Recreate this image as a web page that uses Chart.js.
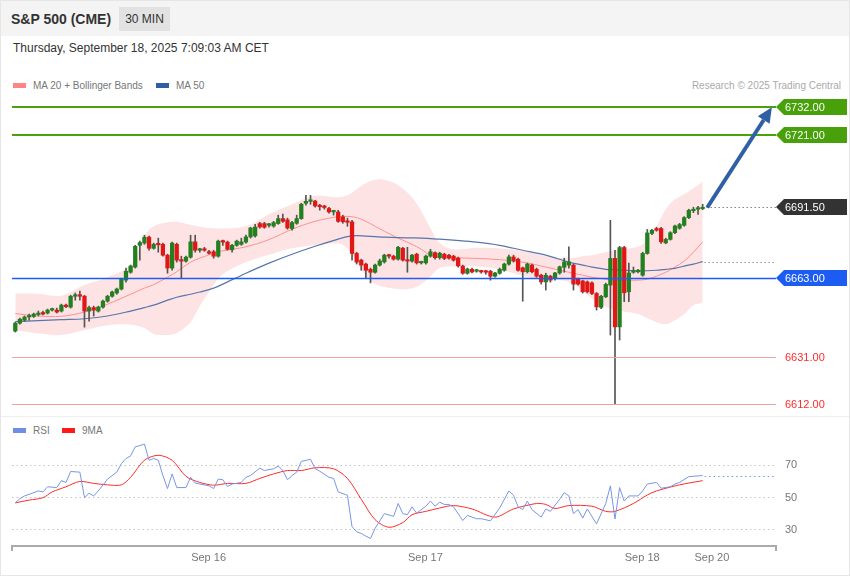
<!DOCTYPE html>
<html>
<head>
<meta charset="utf-8">
<script src="https://cdn.jsdelivr.net/npm/chart.js@4.4.1/dist/chart.umd.min.js"></script>
<style>
  body { margin: 0; background: #fff; font-family: "Liberation Sans", Arial, sans-serif; }
  #page { position: relative; width: 848px; height: 574px; border: 1px solid #e6e6e6; overflow: hidden; }
  #head { position: absolute; left: 0; top: 0; width: 848px; height: 35px; background: #f4f4f4; }
  #title { position: absolute; left: 10px; top: 10px; font-size: 14px; font-weight: bold; color: #333; line-height: 16px; }
  #badge { position: absolute; left: 118px; top: 6px; width: 51px; height: 24px; background: #e2e2e2; color: #333; font-size: 12px; line-height: 24px; text-align: center; }
  #stamp { position: absolute; left: 12px; top: 40px; font-size: 12px; color: #333; line-height: 14px; }
  .legend { position: absolute; font-size: 10px; color: #777; line-height: 12px; white-space: nowrap; }
  .legend i { display: inline-block; width: 13px; height: 5px; margin-right: 7px; vertical-align: 1px; }
  #credit { position: absolute; right: 8px; top: 79px; font-size: 10px; color: #aaa; line-height: 12px; }
  #sep { position: absolute; left: 0; top: 415px; width: 848px; height: 1px; background: #eee; }
  canvas { position: absolute; left: -1px; }
</style>
</head>
<body>
<div id="page">
  <div id="head"></div>
  <div id="title">S&amp;P 500 (CME)</div>
  <div id="badge">30 MIN</div>
  <div id="stamp">Thursday, September 18, 2025 7:09:03 AM CET</div>
  <div class="legend" style="left:12px;top:79px"><i style="background:#ff8585"></i>MA 20 + Bollinger Bands</div>
  <div class="legend" style="left:155px;top:79px"><i style="background:#2e5ea6"></i>MA 50</div>
  <div id="credit">Research © 2025 Trading Central</div>
  <div id="sep"></div>
  <div class="legend" style="left:12px;top:424px"><i style="background:#6f8fe6"></i>RSI</div>
  <div class="legend" style="left:61px;top:424px"><i style="background:#ff1a1a"></i>9MA</div>
  <canvas id="price" width="850" height="320" style="top:95px"></canvas>
  <canvas id="rsi" width="850" height="152" style="top:424px"></canvas>
</div>
<script>
// 30 min bars, index 0..149
const opens = [6641.5,6644.7,6645.9,6647.2,6647.4,6648.2,6649.0,6648.8,6650.0,6650.0,
  6649.6,6652.0,6651.2,6655.6,6655.8,6655.6,6649.6,6651.0,6649.6,6651.2,
  6653.6,6655.6,6656.9,6658.5,6662.1,6665.3,6667.4,6676.2,6677.1,6679.5,
  6675.0,6676.6,6676.6,6672.2,6667.0,6676.6,6670.2,6669.8,6671.4,6677.6,
  6674.2,6674.4,6673.6,6673.6,6671.8,6677.9,6677.5,6674.4,6676.2,6676.6,
  6677.5,6679.6,6680.0,6685.0,6685.0,6684.3,6684.0,6685.0,6687.0,6686.5,
  6683.0,6685.1,6687.0,6693.2,6694.0,6694.1,6692.0,6691.8,6691.1,6689.7,
  6689.7,6687.7,6685.7,6685.7,6672.9,6670.2,6668.6,6666.5,6665.3,6668.2,
  6669.5,6672.0,6671.8,6670.6,6675.0,6670.2,6669.8,6672.6,6669.1,6669.1,
  6671.8,6673.2,6671.2,6672.6,6672.2,6671.8,6671.0,6667.8,6664.9,6666.5,
  6665.7,6665.6,6665.5,6665.7,6663.7,6664.9,6666.1,6668.6,6671.5,6670.6,
  6667.1,6665.5,6668.2,6666.5,6664.1,6661.4,6663.7,6662.8,6665.0,6667.3,
  6668.2,6668.2,6662.5,6661.8,6661.4,6661.0,6656.7,6651.1,6655.4,6660.1,
  6670.9,6643.2,6675.3,6657.4,6665.3,6665.5,6664.1,6672.9,6681.0,6683.0,
  6683.0,6677.2,6678.6,6681.3,6683.1,6684.3,6687.4,6690.2,6690.8,6691.0];
const highs = [6645.1,6646.8,6647.6,6648.4,6648.8,6649.6,6649.6,6650.4,6650.8,6650.8,
  6652.4,6652.4,6656.0,6656.9,6657.7,6656.0,6651.6,6651.6,6651.6,6654.0,
  6656.0,6657.7,6658.9,6662.9,6667.0,6668.2,6676.2,6677.9,6680.3,6679.9,
  6677.1,6679.1,6677.1,6672.6,6677.5,6677.1,6671.8,6671.8,6680.3,6680.3,
  6675.0,6675.4,6674.2,6674.2,6678.3,6678.3,6677.9,6676.6,6678.3,6679.1,
  6680.3,6683.5,6684.7,6685.5,6685.5,6685.1,6685.9,6688.4,6688.8,6687.2,
  6685.9,6688.4,6693.2,6696.4,6696.4,6694.4,6692.8,6692.4,6691.6,6690.4,
  6690.4,6688.4,6687.2,6686.3,6673.4,6670.6,6669.0,6667.0,6668.6,6670.6,
  6672.6,6672.6,6672.2,6675.8,6675.4,6675.4,6672.6,6673.0,6669.8,6672.2,
  6674.6,6673.6,6673.4,6673.0,6672.6,6672.2,6671.4,6668.2,6667.0,6667.0,
  6666.5,6666.1,6666.1,6666.1,6665.3,6667.0,6669.0,6672.2,6672.2,6671.0,
  6667.4,6669.0,6668.6,6667.0,6664.5,6664.9,6664.1,6665.3,6667.8,6671.0,
  6675.6,6668.6,6662.9,6662.1,6661.8,6661.4,6657.1,6656.0,6660.9,6686.3,
  6674.2,6675.8,6675.8,6669.0,6667.4,6666.5,6673.4,6682.6,6682.7,6683.5,
  6683.5,6679.1,6681.7,6684.4,6685.1,6687.8,6690.8,6691.6,6692.0,6692.8];
const lows = [6641.1,6644.3,6645.5,6645.9,6647.0,6647.6,6648.0,6648.4,6649.6,6648.8,
  6649.2,6651.0,6650.8,6654.0,6654.0,6643.1,6645.5,6647.6,6649.2,6650.8,
  6653.2,6655.2,6656.4,6658.1,6661.3,6664.9,6667.0,6670.2,6676.6,6674.2,
  6674.6,6673.4,6671.8,6664.9,6666.1,6669.4,6662.9,6669.4,6671.0,6673.4,
  6673.4,6673.8,6672.6,6671.0,6671.4,6676.2,6674.2,6673.4,6675.8,6676.2,
  6677.1,6679.1,6679.5,6683.1,6683.1,6683.5,6683.5,6684.7,6685.5,6682.7,
  6682.3,6684.7,6686.7,6692.4,6692.8,6691.6,6690.4,6690.8,6689.2,6688.4,
  6685.5,6685.1,6683.9,6670.2,6668.6,6666.1,6662.9,6661.0,6664.9,6667.8,
  6669.0,6671.0,6670.2,6670.2,6669.8,6665.3,6669.4,6668.6,6668.6,6668.6,
  6671.4,6670.6,6670.6,6670.4,6670.6,6669.8,6667.4,6664.5,6664.5,6665.0,
  6665.3,6664.9,6664.5,6662.1,6663.3,6664.5,6665.7,6668.2,6669.4,6665.7,
  6653.6,6665.0,6665.0,6663.3,6660.5,6658.1,6661.3,6662.1,6664.5,6665.3,
  6667.0,6658.1,6660.1,6656.9,6656.9,6656.2,6650.0,6650.6,6655.0,6639.9,
  6612.0,6637.9,6653.4,6653.4,6664.9,6665.0,6663.7,6672.6,6680.5,6681.9,
  6677.0,6676.8,6678.3,6680.9,6682.7,6683.9,6687.0,6689.4,6688.7,6690.6];
const closes = [6644.7,6646.3,6647.2,6647.6,6648.4,6648.8,6648.4,6650.0,6650.2,6649.2,
  6652.0,6651.4,6655.6,6655.8,6655.6,6649.6,6651.0,6650.0,6651.2,6653.6,
  6655.6,6657.3,6658.5,6662.5,6665.7,6667.8,6675.8,6677.3,6679.5,6675.0,
  6676.6,6676.4,6672.2,6667.0,6677.1,6670.2,6669.8,6671.4,6677.6,6674.2,
  6674.4,6674.2,6673.0,6671.8,6677.9,6677.5,6674.6,6676.2,6677.9,6677.6,
  6679.6,6683.2,6683.6,6683.6,6683.5,6684.5,6685.4,6687.0,6685.9,6683.2,
  6685.4,6687.0,6692.8,6694.0,6694.2,6692.1,6691.8,6691.5,6689.7,6689.9,
  6685.9,6685.7,6685.5,6672.9,6669.4,6668.2,6666.1,6665.3,6668.2,6669.9,
  6672.2,6671.8,6670.6,6675.4,6670.2,6669.8,6672.2,6669.1,6669.3,6671.8,
  6673.6,6671.2,6673.0,6670.9,6671.0,6670.2,6667.9,6664.9,6666.6,6665.4,
  6665.9,6665.4,6665.3,6663.7,6665.0,6666.5,6668.6,6671.5,6669.9,6666.1,
  6665.5,6668.6,6665.5,6663.7,6661.4,6664.1,6662.1,6665.0,6667.5,6669.5,
  6669.5,6660.5,6660.5,6657.4,6657.4,6656.7,6651.3,6655.6,6660.4,6670.9,
  6643.2,6675.3,6657.0,6665.0,6665.7,6665.9,6672.9,6681.2,6682.3,6682.3,
  6677.6,6678.6,6681.3,6684.0,6684.6,6687.4,6690.4,6690.8,6691.0,6691.5];

// moving averages and bands, read at these bar indices
const bandIdx = [0,5,10,15,20,25,28,30,33,35,38,40,43,45,50,55,60,65,70,72,74,76,78,80,83,86,88,90,92,95,100,105,110,115,120,123,125,128,130,135,137,139,141,143,145,147,149];
const bbUpper = [6656.7,6656.6,6655.8,6660.1,6663.3,6668.2,6679.9,6683.9,6685.5,6685.7,6684.5,6683.7,6683.1,6683.0,6683.9,6688.8,6692.8,6696.2,6695.6,6696.4,6698.9,6701.3,6702.7,6702.7,6700.5,6695.6,6690.0,6683.1,6677.1,6674.6,6675.2,6675.0,6674.0,6671.8,6670.9,6671.8,6672.2,6673.4,6674.2,6675.6,6678.3,6683.9,6690.8,6694.8,6696.9,6699.3,6701.9];
const bbLower = [6641.9,6640.5,6639.9,6641.9,6643.9,6644.1,6642.7,6640.3,6639.9,6640.7,6645.1,6651.6,6660.1,6664.5,6669.4,6672.4,6675.0,6676.2,6676.9,6675.0,6669.4,6663.7,6660.5,6659.3,6658.5,6658.7,6660.5,6663.7,6667.0,6667.6,6667.6,6666.5,6663.9,6662.3,6661.5,6657.7,6654.8,6651.4,6650.0,6648.4,6646.7,6645.1,6644.3,6645.9,6648.4,6652.0,6653.0];
const ma20 = [6648.6,6647.6,6647.5,6649.2,6652.4,6656.4,6658.9,6660.3,6663.3,6665.5,6669.4,6671.0,6673.0,6674.0,6675.6,6678.5,6682.7,6685.9,6687.8,6687.9,6687.4,6685.9,6683.9,6681.9,6679.1,6676.6,6674.6,6672.2,6671.6,6671.2,6670.9,6670.4,6669.4,6667.4,6665.3,6664.1,6663.3,6662.5,6662.1,6662.1,6662.5,6663.7,6665.3,6667.4,6669.8,6673.4,6677.6];
const ma50 = [6645.3,6645.7,6646.1,6646.5,6647.6,6649.6,6651.0,6652.0,6654.0,6655.2,6656.4,6657.3,6658.9,6660.5,6664.9,6669.0,6672.6,6675.8,6678.7,6679.7,6680.1,6679.9,6679.7,6679.5,6679.3,6679.2,6679.1,6678.9,6678.7,6678.3,6677.5,6676.2,6674.2,6672.2,6669.4,6668.2,6667.4,6666.5,6666.3,6665.9,6665.9,6666.1,6666.5,6666.9,6667.8,6668.6,6669.6];

// RSI and its 9 period average
const rsiIdx = [0,1,2,3,5,6,7,9,10,11,12,14,15,16,17,18,20,22,23,24,25,26,27,28,29,30,31,32,33,34,35,37,38,39,40,42,43,44,45,46,47,49,50,51,53,54,56,57,58,59,60,61,62,64,65,66,68,69,70,72,73,74,75,76,77,78,80,82,83,84,85,86,87,89,90,91,92,93,94,95,97,98,100,101,103,105,107,108,109,110,111,112,114,115,116,118,119,120,121,122,123,124,126,128,129,130,131,132,133,135,136,137,139,140,142,143,144,146,149];
const rsiVal = [46.7,49.3,51,52,54.1,53.5,56.7,56.2,60.5,59.4,66.2,65.8,49.9,52.7,51,54.1,61.5,65.8,71.1,74.3,75.9,81.6,82.3,83.3,73.2,74.3,73.2,63.7,55.6,64.7,56.2,56.2,62.6,59,58.4,57.3,55.6,61.5,61.1,56.9,58.4,59.4,62.6,63.7,68.3,66.8,67.9,69.6,66.8,61.1,63.7,65.8,72.5,73.8,67.9,66.4,62.6,61.9,53.5,51.4,31.9,28.7,27.6,26,24.5,30.8,40,38.3,46.3,40,39.3,44.2,40.3,44.6,47.8,44.6,47.1,45.7,45.7,44.2,35.7,38.9,36.8,36.8,35.5,43.5,54.1,51.4,44.2,42.5,47.8,42.5,37.8,42.9,41.4,48.9,53,51,40,42.5,37.2,42.9,33.6,46.3,57.3,36.6,56.2,47.8,51,51,54.1,58.4,59.4,55.8,56.7,58.4,59.4,63,63.7];
const rsiMaIdx = [0,3,6,8,11,14,17,20,23,25,28,31,34,37,40,43,46,50,53,56,59,62,65,69,72,75,78,81,84,86,89,92,95,99,104,108,113,115,117,120,125,128,130,134,137,139,144,149];
const rsiMaVal = [46.7,48.4,49.9,53.5,56.7,60,58.8,57.9,57.9,62.6,73.2,76.3,73.2,63.2,59.4,57.7,58.8,58.8,61.9,64.7,66.8,66.8,68.5,67.9,61.9,48.9,36.2,31.5,34.4,39.3,41.4,43.5,45,42.9,37.8,42.9,46.3,45.7,43.2,45,44.6,41.4,41.4,46.3,51.6,54.1,57.9,60.5];
const rsiLevels = [30, 50, 70];

// levels and annotations
const targets = [6732, 6721];
const pivot = 6663;
const supports = [6631, 6612];
const lastPrice = 6691.5;
const arrowFrom = [150, 6691.5];
const arrowTo = [164, 6732];

// time axis
const dayTicks = [41.9, 88.9, 135.9, 151.0];
const dayLabels = ['Sep 16', 'Sep 17', 'Sep 18', 'Sep 20'];

const FONT = '"Liberation Sans", Arial, sans-serif';
const X_MIN = -0.71, X_MAX = 164.9;
Chart.defaults.font.family = FONT;

const pts = (xs, ys) => xs.map((x, k) => ({x: x, y: ys[k]}));
const bars = closes.map((c, i) => i);

function tag(ctx, left, py, text, bg) {
  ctx.fillStyle = bg;
  ctx.beginPath();
  ctx.moveTo(left, py);
  ctx.lineTo(left + 8, py - 8);
  ctx.lineTo(left + 71, py - 8);
  ctx.lineTo(left + 71, py + 8);
  ctx.lineTo(left + 8, py + 8);
  ctx.closePath();
  ctx.fill();
  ctx.fillStyle = '#fff';
  ctx.font = '11px ' + FONT;
  ctx.textBaseline = 'middle';
  ctx.fillText(text, left + 9, py + 0.5);
}

const priceMarks = {
  id: 'priceMarks',
  afterDatasetsDraw(chart) {
    const {ctx, chartArea: a, scales: {x, y}} = chart;
    const hline = (v, color, w) => {
      const py = Math.round(y.getPixelForValue(v)) + (w % 2 ? 0.5 : 0);
      ctx.strokeStyle = color;
      ctx.lineWidth = w;
      ctx.beginPath();
      ctx.moveTo(a.left, py);
      ctx.lineTo(a.right, py);
      ctx.stroke();
    };
    const dotted = (v, from, color) => {
      const py = Math.round(y.getPixelForValue(v)) + 0.5;
      ctx.strokeStyle = color;
      ctx.lineWidth = 1;
      ctx.beginPath();
      ctx.moveTo(from, py);
      ctx.lineTo(a.right, py);
      ctx.stroke();
    };
    ctx.save();
    targets.forEach(v => hline(v, '#4aa00e', 2));
    hline(pivot, '#1d5cf2', 1.4);
    supports.forEach(v => hline(v, '#f0a2a2', 1));
    ctx.setLineDash([1, 3]);
    dotted(lastPrice, x.getPixelForValue(closes.length - 1) + 4, '#444');
    dotted(ma50[ma50.length - 1], x.getPixelForValue(bandIdx[bandIdx.length - 1]) + 2, '#666');
    ctx.restore();
  },
  afterDraw(chart) {
    const {ctx, chartArea: a, scales: {x, y}} = chart;
    ctx.save();
    // arrow
    const x0 = x.getPixelForValue(arrowFrom[0]), y0 = y.getPixelForValue(arrowFrom[1]);
    const x1 = x.getPixelForValue(arrowTo[0]), y1 = y.getPixelForValue(arrowTo[1]);
    const ang = Math.atan2(y1 - y0, x1 - x0);
    const head = 15, half = 7;
    const bx = x1 - head * Math.cos(ang), by = y1 - head * Math.sin(ang);
    ctx.strokeStyle = '#2f5fa4';
    ctx.fillStyle = '#2f5fa4';
    ctx.lineWidth = 4;
    ctx.beginPath();
    ctx.moveTo(x0, y0);
    ctx.lineTo(bx, by);
    ctx.stroke();
    ctx.beginPath();
    ctx.moveTo(x1, y1);
    ctx.lineTo(bx + half * Math.sin(ang), by - half * Math.cos(ang));
    ctx.lineTo(bx - half * Math.sin(ang), by + half * Math.cos(ang));
    ctx.closePath();
    ctx.fill();
    // price tags
    targets.forEach(v => tag(ctx, a.right, Math.round(y.getPixelForValue(v)), v.toFixed(2), '#48a00b'));
    tag(ctx, a.right, Math.round(y.getPixelForValue(lastPrice)), lastPrice.toFixed(2), '#333');
    tag(ctx, a.right, Math.round(y.getPixelForValue(pivot)), pivot.toFixed(2), '#1d5cf2');
    ctx.fillStyle = '#ff2a2a';
    ctx.font = '11px ' + FONT;
    ctx.textBaseline = 'middle';
    supports.forEach(v => ctx.fillText(v.toFixed(2), a.right + 9, Math.round(y.getPixelForValue(v)) + 0.5));
    ctx.restore();
  }
};

new Chart(document.getElementById('price'), {
  type: 'bar',
  data: {
    datasets: [
      {type: 'line', data: pts(bandIdx, bbUpper), borderWidth: 0, borderColor: 'rgba(0,0,0,0)',
       pointRadius: 0, tension: 0.35, fill: false, order: 5},
      {type: 'line', data: pts(bandIdx, bbLower), borderWidth: 0, borderColor: 'rgba(0,0,0,0)',
       pointRadius: 0, tension: 0.35, fill: '-1', backgroundColor: 'rgba(250,185,185,0.4)', order: 4},
      {type: 'line', data: pts(bandIdx, ma20), borderColor: '#ff9090', borderWidth: 1,
       pointRadius: 0, tension: 0.35, order: 3},
      {type: 'line', data: pts(bandIdx, ma50), borderColor: '#5876ad', borderWidth: 1.2,
       pointRadius: 0, tension: 0.35, order: 2},
      {type: 'bar', data: bars.map(i => ({x: i, y: [lows[i], highs[i]]})), backgroundColor: '#555',
       barThickness: 1, grouped: false, order: 1},
      {type: 'bar', data: bars.map(i => ({x: i, y: [opens[i], closes[i]]})),
       backgroundColor: bars.map(i => closes[i] >= opens[i] ? '#22801f' : '#e31616'),
       barThickness: 3.6, minBarLength: 1.5, grouped: false, order: 0}
    ]
  },
  options: {
    animation: false,
    responsive: false,
    events: [],
    layout: {padding: {left: 12, right: 74, top: 0, bottom: 0}},
    plugins: {legend: {display: false}, tooltip: {enabled: false}},
    scales: {
      x: {type: 'linear', min: X_MIN, max: X_MAX, display: false, offset: false},
      y: {type: 'linear', min: 6607.15, max: 6736.6, display: false}
    }
  },
  plugins: [priceMarks]
});

const rsiMarks = {
  id: 'rsiMarks',
  afterDatasetsDraw(chart) {
    const {ctx, chartArea: a, scales: {x, y}} = chart;
    ctx.save();
    ctx.setLineDash([1.5, 3]);
    ctx.strokeStyle = '#7896e8';
    ctx.lineWidth = 1;
    const py = Math.round(y.getPixelForValue(rsiVal[rsiVal.length - 1])) + 0.5;
    ctx.beginPath();
    ctx.moveTo(x.getPixelForValue(rsiIdx[rsiIdx.length - 1]) + 2, py);
    ctx.lineTo(a.right, py);
    ctx.stroke();
    ctx.setLineDash([]);
    ctx.strokeStyle = '#aaa';
    ctx.lineWidth = 2;
    [a.left, a.right].forEach(px => {
      ctx.beginPath();
      ctx.moveTo(px, a.bottom);
      ctx.lineTo(px, a.bottom + 5);
      ctx.stroke();
    });
    ctx.restore();
  }
};

const rsiChart = new Chart(document.getElementById('rsi'), {
  type: 'line',
  data: {
    datasets: [
      {data: pts(rsiIdx, rsiVal), borderColor: '#7896e8', borderWidth: 1, pointRadius: 0, tension: 0},
      {data: pts(rsiMaIdx, rsiMaVal), borderColor: '#ff2b2b', borderWidth: 1, pointRadius: 0, tension: 0.3}
    ]
  },
  options: {
    animation: false,
    responsive: false,
    events: [],
    layout: {padding: {left: 12, right: 0, top: 0, bottom: 0}},
    plugins: {legend: {display: false}, tooltip: {enabled: false}},
    scales: {
      x: {
        type: 'linear', min: X_MIN, max: X_MAX,
        grid: {display: false, drawTicks: false},
        border: {display: true, color: '#aaa', width: 2},
        afterBuildTicks: s => { s.ticks = dayTicks.map(v => ({value: v})); },
        afterFit: s => { s.height = 30; },
        ticks: {autoSkip: false, maxRotation: 0, color: '#777', font: {size: 11}, padding: 5,
                callback: (v, i) => dayLabels[i]}
      },
      y: {
        position: 'right', min: 19.84, max: 86.06,
        afterBuildTicks: s => { s.ticks = rsiLevels.map(v => ({value: v})); },
        afterFit: s => { s.width = 74; },
        grid: {color: '#c4c4c4', drawTicks: false, lineWidth: 1},
        border: {display: false, dash: [1.5, 3]},
        ticks: {color: '#777', font: {size: 11}, padding: 9}
      }
    }
  },
  plugins: [rsiMarks]
});

// put the RSI panel so its plot area ends on the time axis line
document.getElementById('rsi').style.top = Math.round(545 - rsiChart.chartArea.bottom) + 'px';
</script>
</body>
</html>
